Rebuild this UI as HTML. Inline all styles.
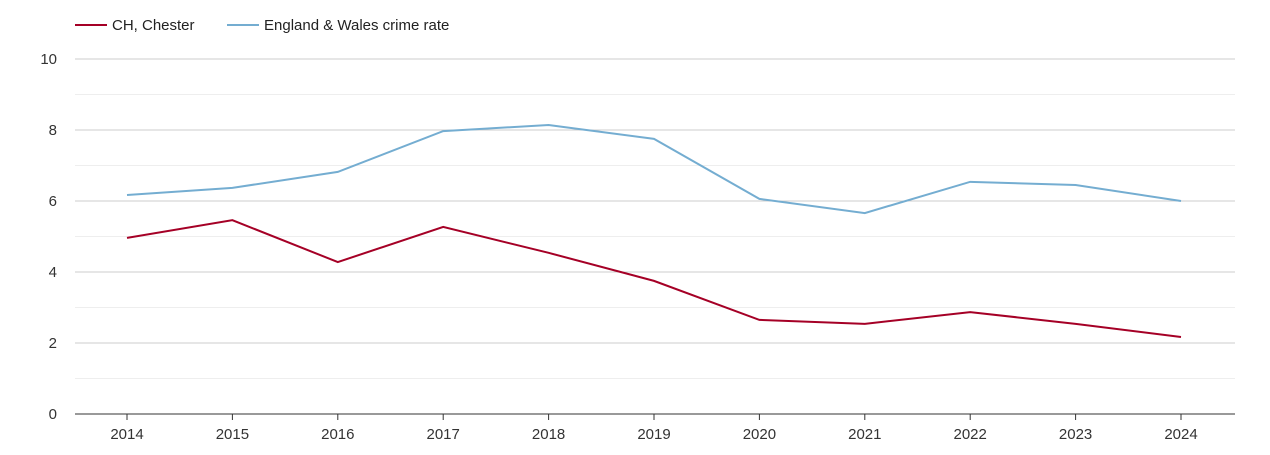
<!DOCTYPE html>
<html><head><meta charset="utf-8"><style>
body{margin:0;background:#fff;font-family:"Liberation Sans",sans-serif;}
svg text{font-family:"Liberation Sans",sans-serif;}
</style></head><body>
<svg id="chart" width="1270" height="450">
<g>
<line x1="75" y1="25" x2="107" y2="25" stroke="#a50026" stroke-width="2"/>
<text x="112" y="30" font-size="15" fill="#222">CH, Chester</text>
<line x1="227" y1="25" x2="259" y2="25" stroke="#74add1" stroke-width="2"/>
<text x="264" y="30" font-size="15" fill="#222">England &amp; Wales crime rate</text>
</g>
<g id="grid"></g><g id="axes"></g><g id="series"></g>
</svg>
<script>
const years=[2014,2015,2016,2017,2018,2019,2020,2021,2022,2023,2024];
const chester=[4.96,5.46,4.28,5.27,4.54,3.75,2.65,2.54,2.87,2.54,2.17];
const england=[6.17,6.37,6.82,7.97,8.14,7.75,6.06,5.66,6.54,6.45,6.0];
const yTicks=[0,2,4,6,8,10];
const NS="http://www.w3.org/2000/svg";
const x0=75,x1=1235,y0=414,y1=59;
function xs(i){return 127+i*(1181-127)/(years.length-1);}
function ys(v){return y0-(v/10)*(y0-y1);}
const grid=document.getElementById('grid'),axes=document.getElementById('axes'),series=document.getElementById('series');
function mk(t,a,p){const e=document.createElementNS(NS,t);for(const k in a)e.setAttribute(k,a[k]);p.appendChild(e);return e;}
for(let v=1;v<10;v+=2){const l=mk('line',{x1:x0,x2:x1,y1:ys(v),y2:ys(v),stroke:'#eeeeee'},grid);

}
yTicks.forEach(v=>{if(v>0){const l=mk('line',{x1:x0,x2:x1,y1:ys(v),y2:ys(v),stroke:'#cccccc'},grid);

}
const t=mk('text',{x:57,y:ys(v)+5,'font-size':15,fill:'#333','text-anchor':'end'},axes);t.textContent=v;

});
const ax=mk('line',{x1:x0,x2:x1,y1:y0,y2:y0,stroke:'#333'},axes);


years.forEach((y,i)=>{const tk=mk('line',{x1:xs(i),x2:xs(i),y1:y0,y2:y0+6,stroke:'#333'},axes);


const t=mk('text',{x:xs(i),y:439,'font-size':15,fill:'#333','text-anchor':'middle'},axes);t.textContent=y;

});
function line(d,c,n){const p=mk('polyline',{points:d.map((v,i)=>xs(i)+','+ys(v)).join(' '),fill:'none',stroke:c,'stroke-width':2},series);

}
line(england,'#74add1','england-wales-line');
line(chester,'#a50026','chester-line');
</script>
</body></html>
